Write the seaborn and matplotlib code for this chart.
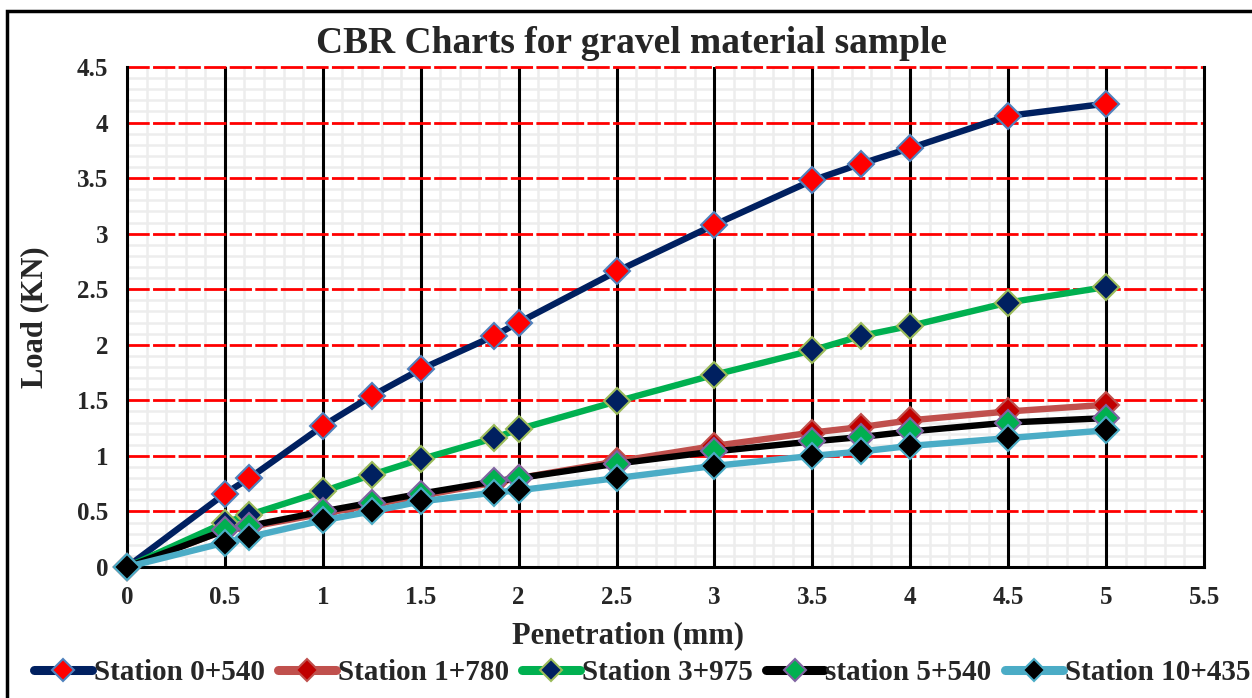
import numpy as np
import pandas as pd
import matplotlib
matplotlib.use("Agg")
import matplotlib.pyplot as plt
from matplotlib.ticker import MultipleLocator
from matplotlib.patches import Rectangle
import seaborn as sns

# Penetration readings (mm)
penetration = [0, 0.5, 0.625, 1, 1.25, 1.5, 1.875, 2, 2.5, 3, 3.5, 3.75, 4, 4.5, 5]

# Load readings (KN) per station
station_0_540 = [0, 0.66, 0.80, 1.27, 1.54, 1.78, 2.08, 2.20, 2.66, 3.08, 3.48, 3.63, 3.77, 4.06, 4.17]
station_1_780 = [0, 0.33, 0.36, 0.48, 0.56, 0.64, 0.76, 0.80, 0.95, 1.09, 1.21, 1.26, 1.32, 1.40, 1.46]
station_3_975 = [0, 0.40, 0.47, 0.68, 0.83, 0.97, 1.16, 1.24, 1.49, 1.73, 1.95, 2.08, 2.17, 2.38, 2.52]
station_5_540 = [0, 0.33, 0.37, 0.50, 0.58, 0.66, 0.77, 0.80, 0.93, 1.04, 1.13, 1.17, 1.22, 1.30, 1.34]
station_10_435 = [0, 0.22, 0.27, 0.42, 0.50, 0.59, 0.67, 0.69, 0.80, 0.91, 1.00, 1.04, 1.09, 1.16, 1.23]

series_names = ["Station 0+540", "Station 1+780", "Station 3+975", "station 5+540", "Station 10+435"]
series_values = [station_0_540, station_1_780, station_3_975, station_5_540, station_10_435]

# line colour, marker face, marker edge
styles = [
    ("#002060", "#FF0000", "#4F81BD"),
    ("#C0504D", "#C00000", "#C0504D"),
    ("#00B050", "#002060", "#9BBB59"),
    ("#000000", "#00B050", "#8064A2"),
    ("#4BACC6", "#000000", "#4BACC6"),
]

df = pd.concat(
    [pd.DataFrame({"Penetration": penetration, "Load": vals, "Station": name})
     for name, vals in zip(series_names, series_values)],
    ignore_index=True,
)

sns.set_theme(style="white")
plt.rcParams["font.family"] = ["Liberation Serif", "DejaVu Serif"]
plt.rcParams["font.weight"] = "bold"

fig = plt.figure(figsize=(12.52, 6.98), dpi=100)
ax = fig.add_axes([127 / 1252, 1 - 567 / 698, (1204 - 127) / 1252, (567 - 67) / 698])

ax.set_xlim(0, 5.5)
ax.set_ylim(0, 4.5)
ax.xaxis.set_major_locator(MultipleLocator(0.5))
ax.yaxis.set_major_locator(MultipleLocator(0.5))
ax.xaxis.set_minor_locator(MultipleLocator(0.1))
ax.yaxis.set_minor_locator(MultipleLocator(0.1))

# light minor grid underneath, then the major grid drawn on top of it
ax.grid(which="minor", color="#EDEDED", linewidth=1.8)
ax.set_axisbelow(True)
for xv in ax.get_xticks():
    if 0 < xv < 5.5:
        ax.axvline(xv, color="black", linewidth=2.2, zorder=1)
for yv in ax.get_yticks():
    if 0 < yv <= 4.5:
        ax.axhline(yv, color="#FF0000", linewidth=2.0,
                   linestyle=(0, (8, 1.2)), zorder=1.1, clip_on=False)

for (line_c, face_c, edge_c), name in zip(styles, series_names):
    sns.lineplot(
        data=df[df["Station"] == name], x="Penetration", y="Load",
        ax=ax, color=line_c, linewidth=4.6, marker="D", markersize=13.5,
        markerfacecolor=face_c, markeredgecolor=edge_c, markeredgewidth=1.5,
        label=name, sort=False, zorder=3, clip_on=False,
    )

for side in ["left", "bottom", "right"]:
    ax.spines[side].set_visible(True)
    ax.spines[side].set_color("black")
    ax.spines[side].set_linewidth(2.2)
ax.spines["top"].set_visible(False)

xt = np.arange(0, 5.51, 0.5)
yt = np.arange(0, 4.51, 0.5)
ax.set_xticks(xt)
ax.set_xticklabels([f"{v:g}" for v in xt])
ax.set_yticks(yt)
ax.set_yticklabels([f"{v:g}" for v in yt])
ax.tick_params(axis="both", which="both", length=0, labelsize=18)
ax.tick_params(axis="x", pad=14)
ax.tick_params(axis="y", pad=13.5)
for lbl in ax.get_xticklabels() + ax.get_yticklabels():
    lbl.set_fontweight("bold")

ax.set_xlabel("Penetration (mm)", fontsize=22, fontweight="bold")
ax.xaxis.set_label_coords((628 - 127) / 1077, -0.108)
ax.set_ylabel("Load (KN)", fontsize=22, fontweight="bold", labelpad=20)
ax.set_title("CBR Charts for gravel material sample", fontsize=27,
             fontweight="bold", pad=10, x=(632 - 127) / 1077)

ax.legend(
    loc="lower center", ncol=5, frameon=False,
    prop={"weight": "bold", "size": 21},
    handlelength=2.0, handletextpad=0.05, columnspacing=0.45,
    borderaxespad=0.0,
)
leg = ax.get_legend()
leg.set_bbox_to_anchor((0.5 + 16 / 1252, 0.0), transform=fig.transFigure)
for h in leg.get_lines():
    h.set_linewidth(6.5)
    h.set_markersize(11)

# outer frame
fig.patches.append(Rectangle((7 / 1252, -0.05), 1.2, 1 - 11 / 698 + 0.05,
                             transform=fig.transFigure, fill=False,
                             edgecolor="black", linewidth=2.5))

fig.savefig("out.png", dpi=100)
